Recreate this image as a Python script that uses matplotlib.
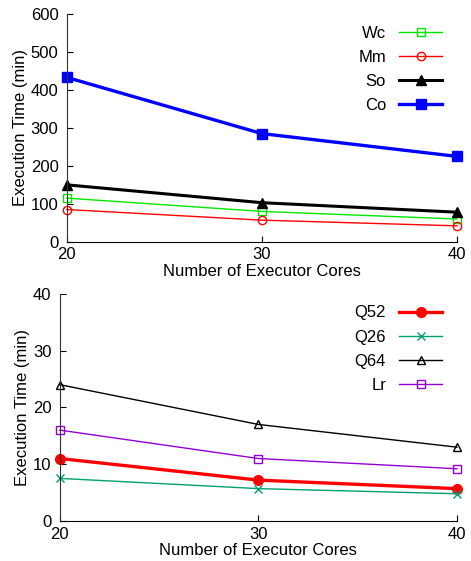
import matplotlib
matplotlib.use('Agg')
import matplotlib.pyplot as plt

plt.rcParams['font.family'] = ['Liberation Sans', 'DejaVu Sans']
plt.rcParams['font.size'] = 12

cores = [20, 30, 40]

# top panel
wc = [115, 80, 60]
mm = [85, 57, 42]
so = [150, 103, 78]
co = [433, 285, 225]

# bottom panel
q52 = [11.0, 7.2, 5.7]
q26 = [7.5, 5.7, 4.8]
q64 = [24, 17, 13]
lr = [16, 11, 9.2]

fig = plt.figure(figsize=(4.71, 5.61), dpi=100)
ax1 = fig.add_axes([0.142, 0.569, 0.828, 0.406])
ax2 = fig.add_axes([0.127, 0.0713, 0.843, 0.405])

ax1.plot(cores, wc, color='#00e800', lw=1, marker='s', mfc='none', ms=6, mew=1, label='Wc')
ax1.plot(cores, mm, color='#ff0000', lw=1, marker='o', mfc='none', ms=6, mew=1, label='Mm')
ax1.plot(cores, so, color='black', lw=2.2, marker='^', ms=7, label='So')
ax1.plot(cores, co, color='#0000ff', lw=2.4, marker='s', ms=6.5, label='Co')
ax1.set_ylim(0, 600)
ax1.set_yticks([0, 100, 200, 300, 400, 500, 600])

ax2.plot(cores, q52, color='#ff0000', lw=2.4, marker='o', ms=7, label='Q52')
ax2.plot(cores, q26, color='#009e73', lw=1, marker='x', ms=6, mew=1, label='Q26')
ax2.plot(cores, q64, color='black', lw=1, marker='^', mfc='none', ms=6, mew=1, label='Q64')
ax2.plot(cores, lr, color='#9400d3', lw=1, marker='s', mfc='none', ms=6, mew=1, label='Lr')
ax2.set_ylim(0, 40)
ax2.set_yticks([0, 10, 20, 30, 40])

for ax in (ax1, ax2):
    ax.set_xlim(20, 40)
    ax.set_xticks(cores)
    ax.spines['top'].set_visible(False)
    ax.spines['right'].set_visible(False)
    ax.spines['left'].set_color('#333333')
    ax.tick_params(direction='in', length=4, labelsize=12)
    ax.tick_params(axis='y', pad=6)
    ax.tick_params(axis='x', pad=4)
    ax.set_xlabel('Number of Executor Cores', fontsize=12, labelpad=1)
    ax.set_ylabel('Execution Time (min)', fontsize=12, labelpad=2)
    for l in ax.get_lines():
        l.set_clip_on(False)
    ax.legend(loc='upper right', frameon=False, markerfirst=False,
              handlelength=2.55, labelspacing=0.55, fontsize=12,
              bbox_to_anchor=(1.0, 1.015))

fig.savefig('out.png', dpi=100)
